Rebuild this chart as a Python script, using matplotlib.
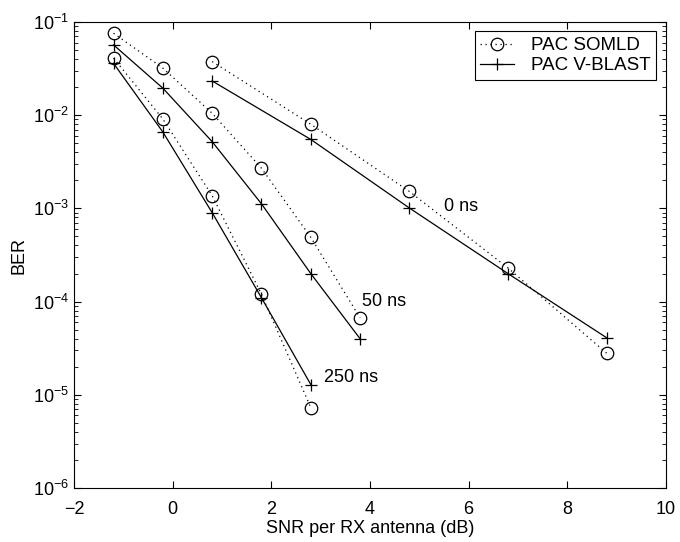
import matplotlib.pyplot as plt
import numpy as np

plt.rcParams['font.family'] = ['Liberation Sans', 'DejaVu Sans']
plt.rcParams['mathtext.fontset'] = 'custom'
plt.rcParams['mathtext.rm'] = 'Liberation Sans'

# SNR (dB) for each delay spread
snr_250 = [-1.2, -0.2, 0.8, 1.8, 2.8]
snr_50 = [-1.2, -0.2, 0.8, 1.8, 2.8, 3.8]
snr_0 = [0.8, 2.8, 4.8, 6.8, 8.8]

# BER, PAC SOMLD
somld_250 = [0.041, 0.0091, 0.00137, 1.2e-4, 7.3e-6]
somld_50 = [0.0757, 0.032, 0.0105, 0.0027, 4.9e-4, 6.7e-5]
somld_0 = [0.0376, 0.008, 0.00152, 2.3e-4, 2.8e-5]

# BER, PAC V-BLAST
vblast_250 = [0.036, 0.0066, 0.0009, 1.1e-4, 1.29e-5]
vblast_50 = [0.0568, 0.0195, 0.0052, 0.00112, 2.0e-4, 4.0e-5]
vblast_0 = [0.0233, 0.0055, 0.00101, 2.0e-4, 4.1e-5]

labels = ["0 ns", "50 ns", "250 ns"]
label_pos = [(5.5, 1.05e-3), (3.83, 1.0e-4), (3.06, 1.55e-5)]

fig = plt.figure(figsize=(6.8, 5.42), dpi=100)
ax = fig.add_axes([0.109, 0.0996, 0.870, 0.8598])

groups = [(snr_0, somld_0, vblast_0), (snr_50, somld_50, vblast_50), (snr_250, somld_250, vblast_250)]
for i, (x, s, v) in enumerate(groups):
    ax.semilogy(x, s, linestyle=(0, (1, 3)), color='black', linewidth=0.9,
                marker='o', markersize=9, markerfacecolor='none', markeredgewidth=0.9,
                label="PAC SOMLD" if i == 0 else None)
    ax.semilogy(x, v, linestyle='-', color='black', linewidth=0.9,
                marker='+', markersize=9, markeredgewidth=0.9,
                label="PAC V-BLAST" if i == 0 else None)

for lab, (tx, ty) in zip(labels, label_pos):
    ax.text(tx, ty, lab, fontsize=13, ha='left', va='center')

ax.set_xlim(-2, 10)
ax.set_ylim(1e-6, 1e-1)
ax.set_xticks(np.arange(-2, 11, 2))
ax.set_xticklabels(["\u22122", "0", "2", "4", "6", "8", "10"])
ax.tick_params(which='both', direction='in', top=True, right=True, labelsize=13)
ax.tick_params(axis='x', pad=9)
ax.tick_params(which='major', length=5)
ax.tick_params(which='minor', length=3)
ax.set_xlabel("SNR per RX antenna (dB)", fontsize=13, labelpad=2)
ax.set_ylabel("BER", fontsize=13)

leg = ax.legend(loc='upper right', fontsize=13.5, fancybox=False, edgecolor='black',
                framealpha=1, borderaxespad=0.5, handlelength=1.8, labelspacing=0.15,
                borderpad=0.3, handletextpad=0.9)
leg.get_frame().set_linewidth(0.8)

fig.savefig("out.png", dpi=100)
